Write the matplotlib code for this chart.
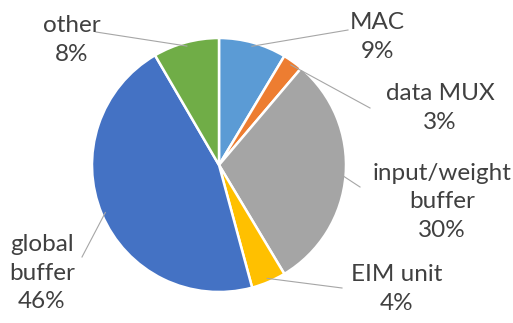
import matplotlib
matplotlib.use('Agg')
import matplotlib.pyplot as plt
import numpy as np

labels = ['MAC', 'data MUX', 'input/weight\nbuffer', 'EIM unit', 'global\nbuffer', 'other']
values = [8.6, 2.6, 30.2, 4.4, 45.8, 8.4]
colors = ['#5B9BD5', '#ED7D31', '#A5A5A5', '#FFC000', '#4472C4', '#70AD47']

# label text centres and leader elbow points, in pixels of the 513x323 image
text_px = [(377, 37), (440, 108), (442, 202), (397, 289), (42, 273), (72, 40)]
elbow_px = [(348, 30), (370, 108), (360, 187), (342, 288), (82, 257), (96, 32)]

W, H = 513, 323
cx, cy, R = 219, 165, 127

plt.rcParams['font.family'] = ['Lato', 'DejaVu Sans']

fig = plt.figure(figsize=(W / 100, H / 100), dpi=100)
ax = fig.add_axes([0, 0, 1, 1])

wedges, _ = ax.pie(values, colors=colors, startangle=90, counterclock=False,
                   radius=1, center=(0, 0), frame=True,
                   wedgeprops=dict(edgecolor='white', linewidth=1.8))
ax.set_xlim(-cx / R, (W - cx) / R)
ax.set_ylim(-(H - cy) / R, cy / R)
ax.set_aspect('equal')
ax.axis('off')

def px2d(p):
    return ((p[0] - cx) / R, (cy - p[1]) / R)

for w, lab, v, tp, ep in zip(wedges, labels, values, text_px, elbow_px):
    ang = np.deg2rad((w.theta1 + w.theta2) / 2)
    end = (0.97 * np.cos(ang), 0.97 * np.sin(ang))
    e = px2d(ep)
    ax.plot([e[0], end[0]], [e[1], end[1]], color='#A6A6A6', lw=0.8)
    t = px2d(tp)
    ax.text(t[0], t[1], '%s\n%.0f%%' % (lab, v), ha='center', va='center',
            fontsize=17.5, color='#404040', linespacing=1.45)

fig.savefig('out.png', dpi=100)
